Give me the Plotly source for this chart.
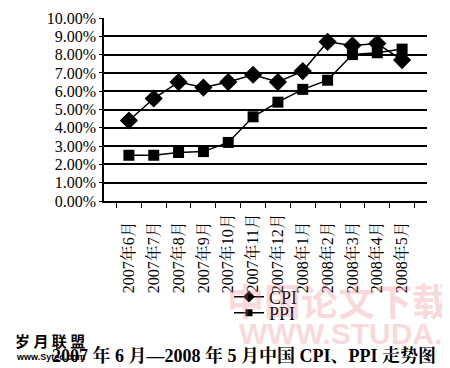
import plotly.graph_objects as go

months = ["2007年6月", "2007年7月", "2007年8月", "2007年9月", "2007年10月", "2007年11月",
          "2007年12月", "2008年1月", "2008年2月", "2008年3月", "2008年4月", "2008年5月"]
cpi = [4.4, 5.6, 6.5, 6.2, 6.5, 6.9, 6.5, 7.1, 8.7, 8.5, 8.6, 7.7]
ppi = [2.5, 2.5, 2.65, 2.7, 3.2, 4.6, 5.4, 6.1, 6.6, 8.0, 8.1, 8.3]
ytick_vals = [0, 1, 2, 3, 4, 5, 6, 7, 8, 9, 10]
ytick_text = ["%.2f%%" % v for v in ytick_vals]
title_text = "<b>2007 年 6 月—2008 年 5 月中国 CPI、PPI 走势图</b>"

serif = "Liberation Serif, Times New Roman, Noto Serif CJK SC, Noto Sans CJK SC, serif"

OFF = 8  # default page body margin
W, H = 450 - OFF, 368 - OFF
L, T = 104 - OFF, 18 - OFF
R = W - (427 - OFF)
B = H - (201 - OFF)

pw, ph = W - L - R, H - T - B

def px2paper(xw, yw):
    x, y = xw - OFF, yw - OFF
    return (x - L) / pw, (H - B - y) / ph

# pad shorter labels so all read from the same bottom start (figure space = digit width)
maxlen = max(len(m) for m in months)
xtick_text = [m + "\u2007" * (maxlen - len(m)) for m in months]

fig = go.Figure()
fig.add_trace(go.Scatter(x=months, y=cpi, name="CPI", mode="lines+markers",
                         line=dict(color="black", width=1.5),
                         marker=dict(symbol="diamond", size=14, color="black"),
                         showlegend=False))
fig.add_trace(go.Scatter(x=months, y=ppi, name="PPI", mode="lines+markers",
                         line=dict(color="black", width=1.5),
                         marker=dict(symbol="square", size=11, color="black"),
                         showlegend=False))
# legend keys (smaller markers, as in the reference legend)
fig.add_trace(go.Scatter(x=[None], y=[None], name="CPI", mode="lines+markers",
                         line=dict(color="black", width=1.5),
                         marker=dict(symbol="diamond", size=9, color="black"),
                         legend="legend"))
fig.add_trace(go.Scatter(x=[None], y=[None], name="PPI", mode="lines+markers",
                         line=dict(color="black", width=1.5),
                         marker=dict(symbol="square", size=7, color="black"),
                         legend="legend2"))

lx, ly1 = px2paper(229, 297)
_, ly2 = px2paper(229, 313)
legfont = dict(size=18, family=serif, color="black")

fig.update_layout(
    width=W, height=H,
    margin=dict(l=L, r=R, t=T, b=B, autoexpand=False),
    paper_bgcolor="white", plot_bgcolor="white",
    font=dict(family=serif, color="black"),
    showlegend=True,
    legend=dict(x=lx, y=ly1, xanchor="left", yanchor="middle", font=legfont,
                bgcolor="rgba(0,0,0,0)", itemwidth=30),
    legend2=dict(x=lx, y=ly2, xanchor="left", yanchor="middle", font=legfont,
                 bgcolor="rgba(0,0,0,0)", itemwidth=30),
    xaxis=dict(type="category", showline=True, linecolor="black", linewidth=1.5,
               ticks="outside", tickson="boundaries", ticklen=5, tickcolor="black",
               tickangle=-90, tickfont=dict(size=16, family=serif), showgrid=False,
               tickvals=months, ticktext=xtick_text, ticklabelstandoff=4,
               automargin=False),
    yaxis=dict(range=[0, 10], tickvals=ytick_vals, ticktext=ytick_text,
               showline=True, linecolor="black", linewidth=1.5,
               ticks="outside", ticklen=3, tickcolor="black",
               showgrid=True, gridcolor="black", gridwidth=1.5,
               tickfont=dict(size=16, family=serif), zeroline=False,
               automargin=False),
)

def ann(text, x, y, font, xanchor="center"):
    ax, ay = px2paper(x, y)
    fig.add_annotation(text=text, x=ax, y=ay, xref="paper", yref="paper",
                       showarrow=False, font=font, xanchor=xanchor, yanchor="middle")

pink = "rgba(235,120,130,0.28)"
ann(title_text, 438, 355, dict(size=18, color="black", family=serif), xanchor="right")
ann("<b>中国论文下载</b>", 338, 300, dict(size=37, color=pink, family="Noto Sans CJK SC"))
ann("<b>WWW.STUDA.</b>", 340, 333, dict(size=30, color=pink, family="Liberation Sans"))
ann("<b>岁 月 联 盟</b>", 50, 340, dict(size=15, color="black", family="Noto Sans CJK SC"))
ann("<b>www.Sytec.com</b>", 50, 357, dict(size=9, color="black", family="Liberation Sans"))

fig.write_html("out.html")
